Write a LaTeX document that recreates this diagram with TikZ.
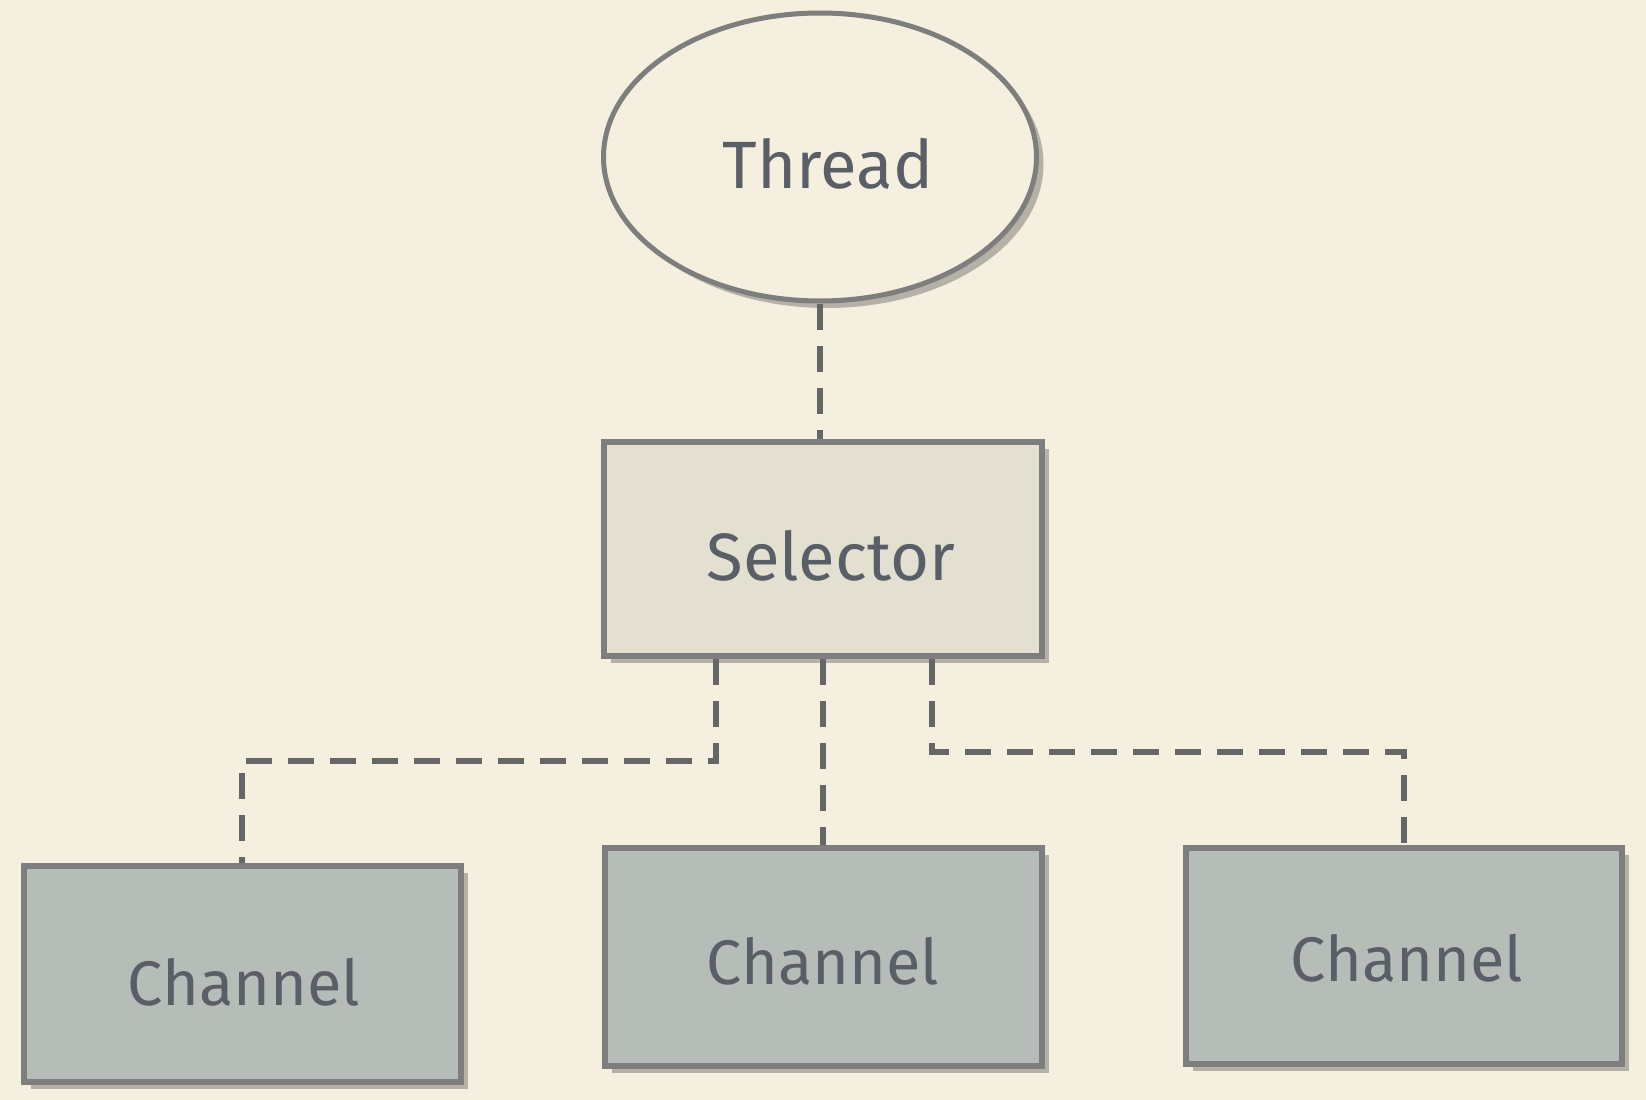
\documentclass[tikz,border=0pt]{standalone}
\usepackage{fontspec}
\setmainfont{Fira Sans}
\usetikzlibrary{shapes.geometric,shadows}
\definecolor{bg}{HTML}{F5EFE0}
\definecolor{edge}{HTML}{7E7E7E}
\definecolor{dash}{HTML}{666666}
\definecolor{txt}{HTML}{5A5E66}
\definecolor{shad}{HTML}{B5B1A6}
\definecolor{selfill}{HTML}{E3E0D2}
\definecolor{chfill}{HTML}{B6BDB9}
\tikzset{
  shad/.style={drop shadow={shadow xshift=7pt,shadow yshift=-7pt,fill=shad,opacity=1}},
  lbl/.style={text=txt,font=\fontsize{67}{72}\selectfont,text depth=0pt,text height=#1},
  chlbl/.style={text=txt,font=\fontsize{63}{70}\selectfont,text depth=0pt,text height=#1},
  boxstyle/.style={rectangle,draw=edge,line width=6pt,inner sep=0pt,shad},
  conn/.style={draw=dash,line width=6.5pt,dash pattern=on 26pt off 16pt}
}
\begin{document}
\begin{tikzpicture}[x=1pt,y=-1pt]
\fill[bg] (0,0) rectangle (1646,1100);
\useasboundingbox (0,0) rectangle (1646,1100);
\node[ellipse,draw=edge,line width=5pt,fill=bg,minimum width=433pt,minimum height=288pt,inner sep=0pt,shad,lbl=62pt] (thread) at (820,157) {\hspace*{16pt}Thread};
\node[boxstyle,fill=selfill,minimum width=438pt,minimum height=214pt,lbl=62pt] (sel) at (823,549) {\hspace*{16pt}Selector};
\node[boxstyle,fill=chfill,minimum width=437pt,minimum height=216pt,chlbl=62pt] (ch1) at (242,974) {\hspace*{4pt}Channel};
\node[boxstyle,fill=chfill,minimum width=437pt,minimum height=218pt,chlbl=54pt] (ch2) at (823,957) {Channel};
\node[boxstyle,fill=chfill,minimum width=436pt,minimum height=216pt,chlbl=50pt] (ch3) at (1404,956) {\hspace*{6pt}Channel};
\coordinate (l1) at (716,761);
\coordinate (r1) at (932,752);
\draw[conn] (thread.south) -- (thread.south |- sel.north);
\draw[conn] (sel.south -| l1) -- (l1) -| (ch1.north);
\draw[conn] (sel.south) -- (ch2.north);
\draw[conn] (sel.south -| r1) -- (r1) -| (ch3.north);
\end{tikzpicture}
\end{document}
